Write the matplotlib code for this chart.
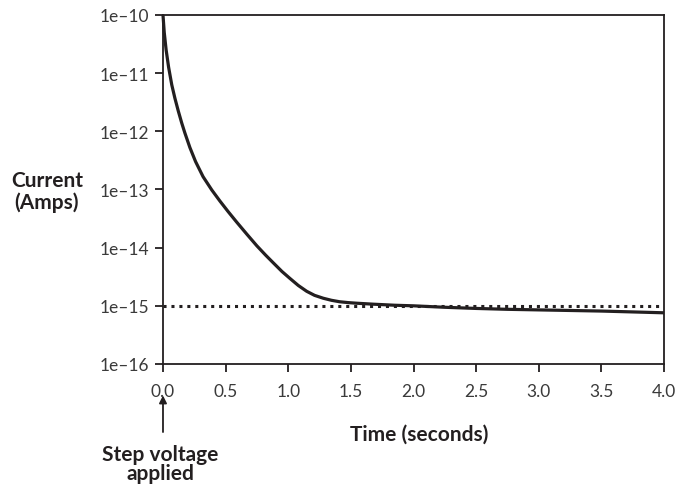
import numpy as np
import matplotlib
matplotlib.use("Agg")
import matplotlib.pyplot as plt

# values (time in s, log10 of current in A)
time = [0.0, 0.01, 0.025, 0.045, 0.07, 0.095, 0.122, 0.15, 0.175, 0.215, 0.26, 0.32,
        0.39, 0.455, 0.52, 0.588, 0.67, 0.75, 0.82, 0.88, 0.95, 1.014, 1.08, 1.147,
        1.21, 1.28, 1.345, 1.41, 1.48, 1.545, 1.68, 1.85, 2.0, 2.25, 2.5, 2.75, 3.0,
        3.25, 3.5, 3.75, 4.0]
log_current = [-10.0, -10.3, -10.6, -10.9, -11.2, -11.43, -11.65, -11.86, -12.03, -12.28,
               -12.52, -12.78, -13.01, -13.2, -13.38, -13.56, -13.77, -13.97, -14.13,
               -14.26, -14.41, -14.53, -14.65, -14.75, -14.82, -14.87, -14.905, -14.93,
               -14.945, -14.955, -14.972, -14.99, -15.0, -15.025, -15.045, -15.06,
               -15.07, -15.08, -15.09, -15.105, -15.12]
current = 10.0 ** np.array(log_current)
threshold = 1e-15

x_ticks = [0.0, 0.5, 1.0, 1.5, 2.0, 2.5, 3.0, 3.5, 4.0]
y_ticks = [1e-16, 1e-15, 1e-14, 1e-13, 1e-12, 1e-11, 1e-10]
y_labels = ["1e\u201316", "1e\u201315", "1e\u201314", "1e\u201313", "1e\u201312", "1e\u201311", "1e\u201310"]

ink = "#231f20"
plt.rcParams['font.family'] = ['Lato', 'DejaVu Sans']

fig = plt.figure(figsize=(6.78, 4.89), dpi=100)
ax = fig.add_axes([0.2404, 0.2536, 0.7390, 0.7137])

ax.plot(time, current, color=ink, lw=2.3, solid_capstyle='butt', solid_joinstyle='round',
        clip_on=False, zorder=3)
ax.axhline(threshold, color=ink, lw=2.2, linestyle=(0, (1, 1.6)), zorder=2)

ax.set_yscale('log')
ax.set_xlim(0, 4)
ax.set_ylim(1e-16, 1e-10)
ax.set_xticks(x_ticks)
ax.set_xticklabels(["%.1f" % v for v in x_ticks])
ax.set_yticks(y_ticks)
ax.set_yticklabels(y_labels)
ax.minorticks_off()
ax.tick_params(direction='out', length=6, width=1.3, colors=ink, labelcolor='#3a3a3a',
               labelsize=12.5, pad=4)
ax.tick_params(axis='x', pad=8)
for s in ax.spines.values():
    s.set_color(ink)
    s.set_linewidth(1.3)

fig.text(0.619, 0.112, "Time (seconds)", ha='center', va='center', fontsize=15,
         fontweight='bold', color=ink)
fig.text(0.069, 0.607, "Current\n(Amps)", ha='center', va='center', fontsize=15,
         fontweight='bold', color=ink, linespacing=1.05)

ax.annotate("", xy=(0, -0.09), xytext=(0, -0.195), xycoords=('data', 'axes fraction'),
            textcoords=('data', 'axes fraction'),
            arrowprops=dict(arrowstyle='-|>', color=ink, lw=1.3, mutation_scale=11,
                            shrinkA=0, shrinkB=0))
fig.text(0.237, 0.050, "Step voltage\napplied", ha='center', va='center', fontsize=15,
         fontweight='bold', color=ink, linespacing=0.95)

fig.savefig("out.png", dpi=100)
